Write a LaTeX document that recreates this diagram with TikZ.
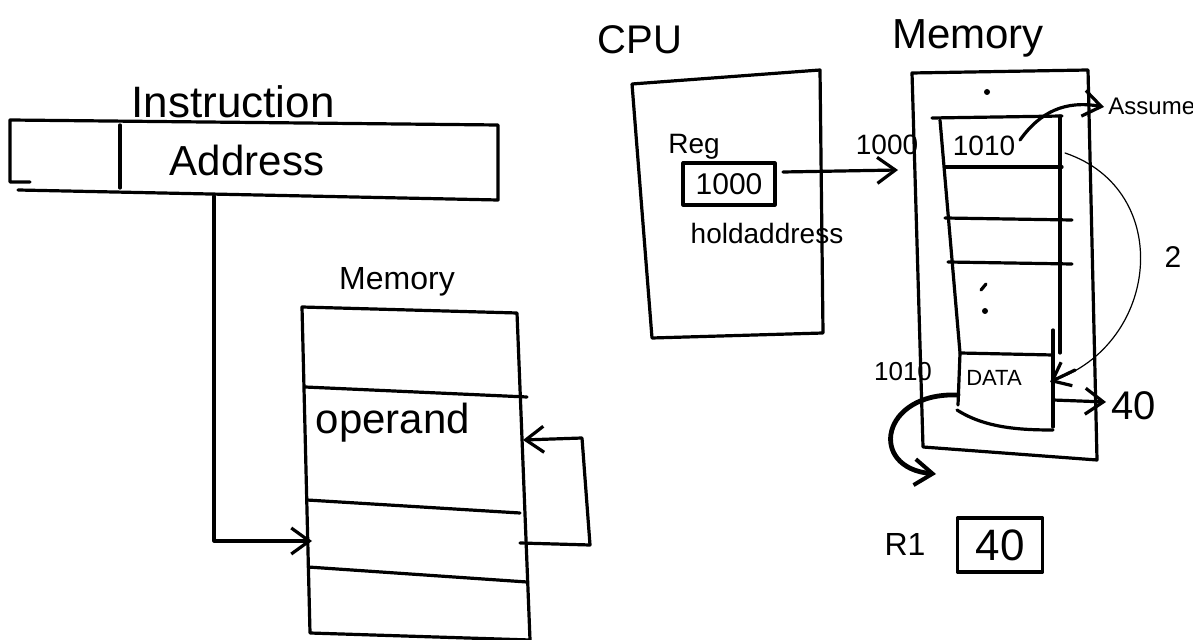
\documentclass[tikz,border=0pt]{standalone}
\usepackage{fontspec}
\setmainfont{Liberation Sans}
\usetikzlibrary{arrows.meta}
\begin{document}
\begin{tikzpicture}[x=0.5pt,y=-0.5pt,
  pen/.style={line width=1.6pt,line cap=round,line join=round},
  thinpen/.style={line width=0.6pt,line cap=round},
  lbl/.style={inner sep=0pt,font=\fontsize{#1}{#1}\selectfont},
  barb/.style={-{Straight Barb[length=9pt,width=13pt,line width=1.6pt]}},
  cellbox/.style={pen,draw,inner sep=0pt}]
\useasboundingbox[fill=white] (0,0) rectangle (1193,640);

% ---------- instruction word ----------
\draw[pen] (30,182) -- (10,182) -- (10,120) -- (498,125) -- (498,200) -- (18,190);
\draw[pen] (120,125) -- (120,188);
\node[lbl=22] (instr) at (233,102) {Instruction};
\node[lbl=21] (addr) at (247,160) {Address};
\coordinate (addrout) at (214,196);

% ---------- memory (left) ----------
\node[lbl=16] (memL) at (397,282) {Memory};
\draw[pen] (302,307) -- (517,313) -- (530,640) -- (310,633) -- cycle;
\draw[pen] (305,387) -- (527,397);
\draw[pen] (307,500) -- (520,513);
\draw[pen] (308,567) -- (527,582);
\node[lbl=21] (operand) at (393,423) {operand};
\coordinate (cellin) at (312,541);
\coordinate (loopout) at (520,543);
\coordinate (loopin) at (523,440);

\draw[pen,barb] (addrout) -- (214,541) -- (cellin);
\draw[pen,barb] (loopout) -- (590,545) -- (582,438) -- (loopin);

% ---------- CPU ----------
\node[lbl=20] (cpu) at (640,40) {CPU};
\draw[pen] (632,84) -- (820,70) -- (823,333) -- (652,338) -- (632,84);
\node[lbl=14] (reglbl) at (694,147) {Reg};
\node[cellbox,minimum width=46pt,minimum height=21pt] (reg) at (729,184) {};
\node[lbl=15] at (reg) {1000};
\node[lbl=14] (hold) at (767,233) {holdaddress};

% ---------- memory (right) ----------
\node[lbl=21] (memR) at (968,38) {Memory};
\draw[pen] (912,73) -- (1088,70) -- (1097,460) -- (923,447) -- cycle;
\draw[pen] (932,118) -- (1062,116);
\draw[pen] (940,120) -- (960,353) -- (958,405);
\draw[pen] (1060,116) -- (1060,353);
\draw[pen] (945,167) -- (1062,167);
\draw[pen] (945,218) -- (1072,220);
\draw[pen] (948,262) -- (1072,264);
\draw[pen] (960,353) -- (1053,355);
\draw[pen] (1053,330) -- (1053,427);
\draw[pen] (957,410) .. controls (985,428) and (1020,430) .. (1053,430);
\fill (987,92) circle (3);
\draw[pen] (981,290) -- (986,284);
\fill (985,311) circle (3);

\node[lbl=14] (m1010) at (984,146) {1010};
\node[lbl=14] (a1000) at (887,145) {1000};
\node[lbl=13] (a1010) at (903,372) {1010};
\node[lbl=11] (data) at (994,378) {DATA};
\node[lbl=12,anchor=west] (assume) at (1108,106) {Assume};
\node[lbl=15] (two) at (1173,257) {2};
\node[lbl=20,anchor=west] (forty) at (1111,406) {40};

\coordinate (regout) at (783,172);
\coordinate (memin) at (898,170);
\draw[pen,barb] (regout) -- (memin);

\draw[pen,barb] (1020,140) .. controls (1040,112) and (1065,100) .. (1104,107);
\draw[thinpen] (1065,153) .. controls (1175,190) and (1160,345) .. (1052,381);
\draw[pen,-{Straight Barb[length=8pt,width=13pt,line width=1.6pt]}] (1075,370) -- (1050,382);
\draw[pen,barb] (1053,400) -- (1106,402);
\draw[line width=2.4pt,line cap=round,-{Straight Barb[length=9pt,width=13pt,line width=2pt]}] (958,395) .. controls (880,392) and (868,468) .. (936,474);

% ---------- register R1 ----------
\node[lbl=16] (r1) at (905,544) {R1};
\node[cellbox,minimum width=42.5pt,minimum height=27pt] (r1box) at (1000,545) {};
\node[lbl=22] at (r1box) {40};
\end{tikzpicture}
\end{document}
